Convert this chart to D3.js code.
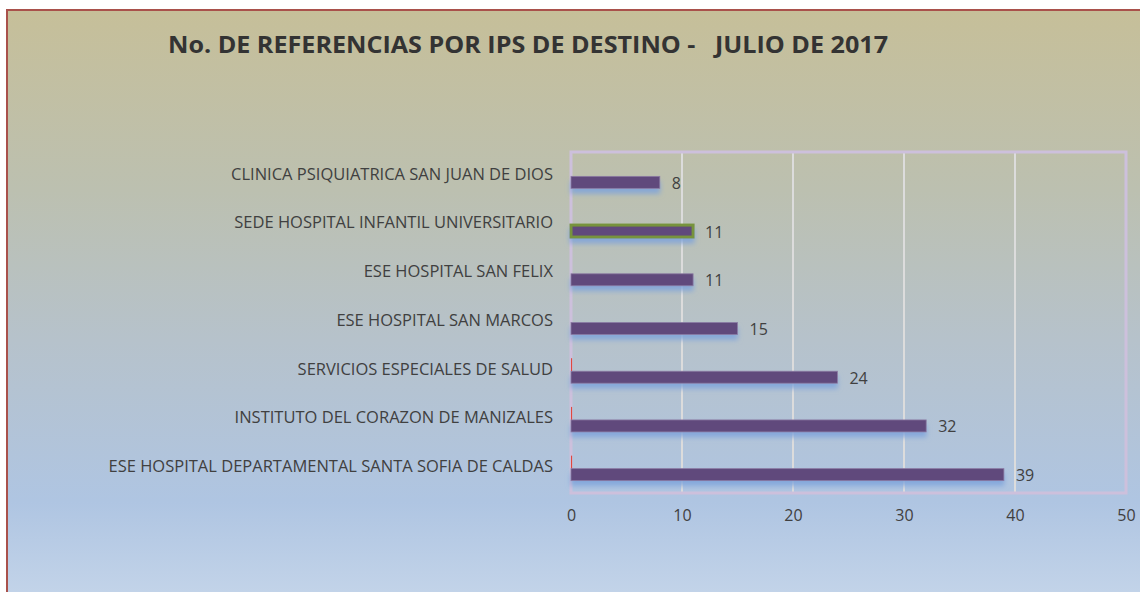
<!DOCTYPE html>
<html>
<head>
<meta charset="utf-8">
<script src="https://cdn.jsdelivr.net/npm/d3@7"></script>
<style>
  body { margin: 0; background: #ffffff; }
  svg { display: block; }
</style>
</head>
<body>
<svg id="chart" width="1140" height="592"></svg>
<script>
let categories = [
  'CLINICA PSIQUIATRICA SAN JUAN DE DIOS',
  'SEDE HOSPITAL INFANTIL UNIVERSITARIO',
  'ESE HOSPITAL SAN FELIX',
  'ESE HOSPITAL SAN MARCOS',
  'SERVICIOS ESPECIALES DE SALUD',
  'INSTITUTO DEL CORAZON DE MANIZALES',
  'ESE HOSPITAL DEPARTAMENTAL SANTA SOFIA DE CALDAS'
];
let referencias = [8, 11, 11, 15, 24, 32, 39];
let otraSerie = [0, 0, 0, 0, 0.1, 0.1, 0.1];
let tickValues = [0, 10, 20, 30, 40, 50];
let highlighted = 'SEDE HOSPITAL INFANTIL UNIVERSITARIO';
let titleText = 'No. DE REFERENCIAS POR IPS DE DESTINO -\u00a0\u00a0\u00a0JULIO DE 2017';

let labelFont = '"Open Sans", Lato, sans-serif';

let svg = d3.select('#chart');
let defs = svg.append('defs');

let bg = defs.append('linearGradient')
  .attr('id', 'bg-grad')
  .attr('x1', 0).attr('y1', 0).attr('x2', 0).attr('y2', 1);
bg.append('stop').attr('offset', '0%').attr('stop-color', '#c6bf99');
bg.append('stop').attr('offset', '30%').attr('stop-color', '#bcc0b0');
bg.append('stop').attr('offset', '55%').attr('stop-color', '#b6c2cb');
bg.append('stop').attr('offset', '82%').attr('stop-color', '#afc5e2');
bg.append('stop').attr('offset', '100%').attr('stop-color', '#c6d6ea');

let shadow = defs.append('filter')
  .attr('id', 'bar-shadow')
  .attr('x', '-10%').attr('y', '-50%').attr('width', '120%').attr('height', '250%');
shadow.append('feGaussianBlur').attr('in', 'SourceAlpha').attr('stdDeviation', 2.5).attr('result', 'blur');
shadow.append('feOffset').attr('in', 'blur').attr('dx', 0).attr('dy', 5).attr('result', 'off');
shadow.append('feFlood').attr('flood-color', '#7ea3db').attr('flood-opacity', 0.85);
shadow.append('feComposite').attr('in2', 'off').attr('operator', 'in').attr('result', 'sh');
let merge = shadow.append('feMerge');
merge.append('feMergeNode').attr('in', 'sh');
merge.append('feMergeNode').attr('in', 'SourceGraphic');

// fondo y borde exterior
svg.append('rect')
  .attr('x', 7).attr('y', 10)
  .attr('width', 1140).attr('height', 600)
  .attr('fill', 'url(#bg-grad)')
  .attr('stroke', '#a9514b')
  .attr('stroke-width', 2);

svg.append('text')
  .attr('x', 168)
  .attr('y', 53)
  .attr('font-family', labelFont)
  .attr('font-weight', 'bold')
  .attr('font-size', 23)
  .attr('fill', '#333333')
  .text(titleText)
  .attr('textLength', 720)
  .attr('lengthAdjust', 'spacingAndGlyphs');

let plot = { left: 571, right: 1126, top: 152, bottom: 493 };

let x = d3.scaleLinear()
  .domain([0, 50])
  .range([plot.left, plot.right]);

let y = d3.scaleBand()
  .domain(categories)
  .range([plot.top, plot.bottom]);

let inner = d3.scaleBand()
  .domain(['otra', 'ref'])
  .range([0, 26])
  .paddingInner(0);

let barOffset = (y.bandwidth() - 26) / 2;

// rejilla
svg.append('g')
  .selectAll('line')
  .data(tickValues.slice(1, -1))
  .join('line')
  .attr('x1', d => x(d)).attr('x2', d => x(d))
  .attr('y1', plot.top).attr('y2', plot.bottom)
  .attr('stroke', '#dcdcdc')
  .attr('stroke-width', 2);

// borde del area de trazado
svg.append('rect')
  .attr('x', plot.left).attr('y', plot.top)
  .attr('width', plot.right - plot.left)
  .attr('height', plot.bottom - plot.top)
  .attr('fill', 'none')
  .attr('stroke', '#cdc0dc')
  .attr('stroke-width', 3);

let rows = svg.append('g')
  .selectAll('g')
  .data(categories)
  .join('g')
  .attr('transform', d => 'translate(0,' + (y(d) + barOffset) + ')');

rows.append('rect')
  .attr('x', x(0))
  .attr('y', inner('otra'))
  .attr('width', (d, i) => x(otraSerie[i]) - x(0))
  .attr('height', inner.bandwidth())
  .attr('fill', '#e0483f');

rows.append('rect')
  .attr('x', x(0))
  .attr('y', inner('ref'))
  .attr('width', (d, i) => x(referencias[i]) - x(0))
  .attr('height', inner.bandwidth() - 1)
  .attr('fill', '#604a7b')
  .attr('stroke', d => d === highlighted ? '#77933c' : '#8b7aa3')
  .attr('stroke-width', d => d === highlighted ? 3 : 0.8)
  .attr('filter', 'url(#bar-shadow)');

rows.append('text')
  .attr('x', (d, i) => x(referencias[i]) + 12)
  .attr('y', inner('ref') + inner.bandwidth() / 2 + 6)
  .attr('font-family', labelFont)
  .attr('font-size', 16)
  .attr('fill', '#404040')
  .text((d, i) => referencias[i]);

// etiquetas de categoria
let yAxis = d3.axisLeft(y).tickSize(0).tickPadding(18);
let yAxisG = svg.append('g')
  .attr('transform', 'translate(' + plot.left + ',0)')
  .call(yAxis);
yAxisG.select('.domain').remove();
let catLabels = yAxisG.selectAll('text')
  .attr('font-family', labelFont)
  .attr('font-size', 14)
  .attr('fill', '#404040')
  .attr('dy', '0.2em');

// ajustar el tamano para que la etiqueta mas larga ocupe lo mismo que en la original
let widest = d3.max(catLabels.nodes(), n => n.getComputedTextLength());
catLabels.attr('font-size', 14 * 445 / widest);

// eje x
let xAxis = d3.axisBottom(x).tickValues(tickValues).tickSize(0).tickPadding(17);
let xAxisG = svg.append('g')
  .attr('transform', 'translate(0,' + plot.bottom + ')')
  .call(xAxis);
xAxisG.select('.domain').remove();
xAxisG.selectAll('text')
  .attr('font-family', labelFont)
  .attr('font-size', 16)
  .attr('fill', '#404040');
</script>
</body>
</html>
